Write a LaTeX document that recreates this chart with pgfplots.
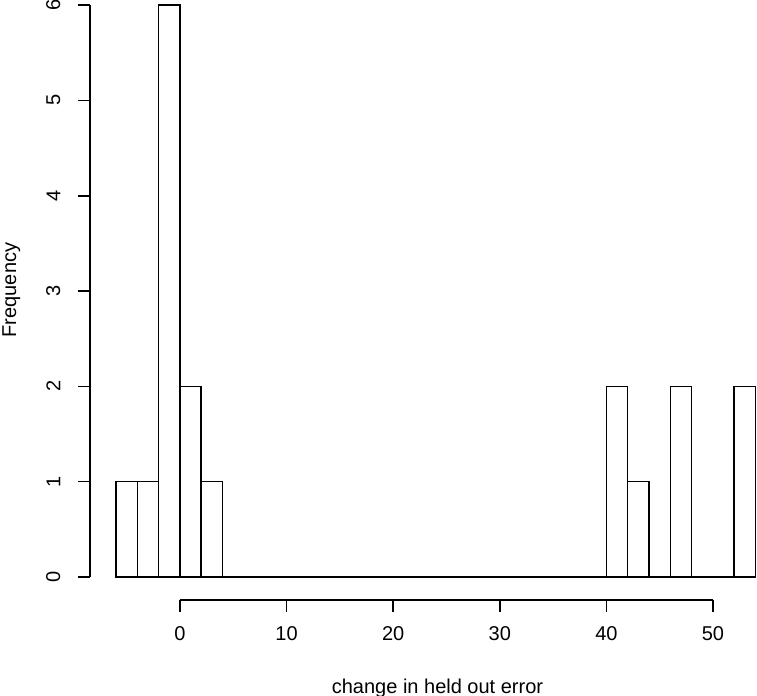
\documentclass[border=0pt]{standalone}
\usepackage{pgfplots}
\pgfplotsset{compat=1.18}
\usepackage{fontspec}
\setmainfont{Liberation Sans}
\begin{document}
\begin{tikzpicture}
\begin{axis}[
    scale only axis,
    width=500.25pt, height=450pt,
    xmin=-8.44, xmax=54.13,
    ymin=-0.241, ymax=6.053,
    axis line style={draw=none},
    tick pos=left,
    tick align=outside,
    major tick length=9pt,
    tick style={black, line width=1.2pt},
    xtick={0,10,20,30,40,50},
    ytick={0,1,2,3,4,5,6},
    font=\fontsize{15}{18}\selectfont,
    /pgf/number format/assume math mode=true,
    xticklabel shift=7pt,
    yticklabel shift=9.7pt,
    yticklabel style={rotate=90, anchor=south},
    xlabel={change in held out error},
    ylabel={Frequency},
    xlabel style={yshift=-22pt, xshift=10.5pt},
    ylabel style={yshift=12.6pt, xshift=7.5pt},
    clip=false,
]
\addplot[ybar interval, draw=black, fill=white, line width=1.2pt] coordinates {
    (-6,1) (-4,1) (-2,6) (0,2) (2,1)
    (4,0) (6,0) (8,0) (10,0) (12,0) (14,0) (16,0) (18,0) (20,0)
    (22,0) (24,0) (26,0) (28,0) (30,0) (32,0) (34,0) (36,0) (38,0)
    (40,2) (42,1) (44,0) (46,2) (48,0) (50,0) (52,2) (54,0)
};
\draw[line width=1.2pt] (axis cs:0,-0.241) -- (axis cs:50,-0.241);
\draw[line width=1.2pt] (axis cs:-8.44,0) -- (axis cs:-8.44,6);
\coordinate (bl) at (rel axis cs:0,0);
\coordinate (tr) at (rel axis cs:1,1);
\end{axis}
\pgfresetboundingbox
\useasboundingbox ([shift={(-67.5pt,-72pt)}]bl) rectangle (tr);
\end{tikzpicture}
\end{document}
